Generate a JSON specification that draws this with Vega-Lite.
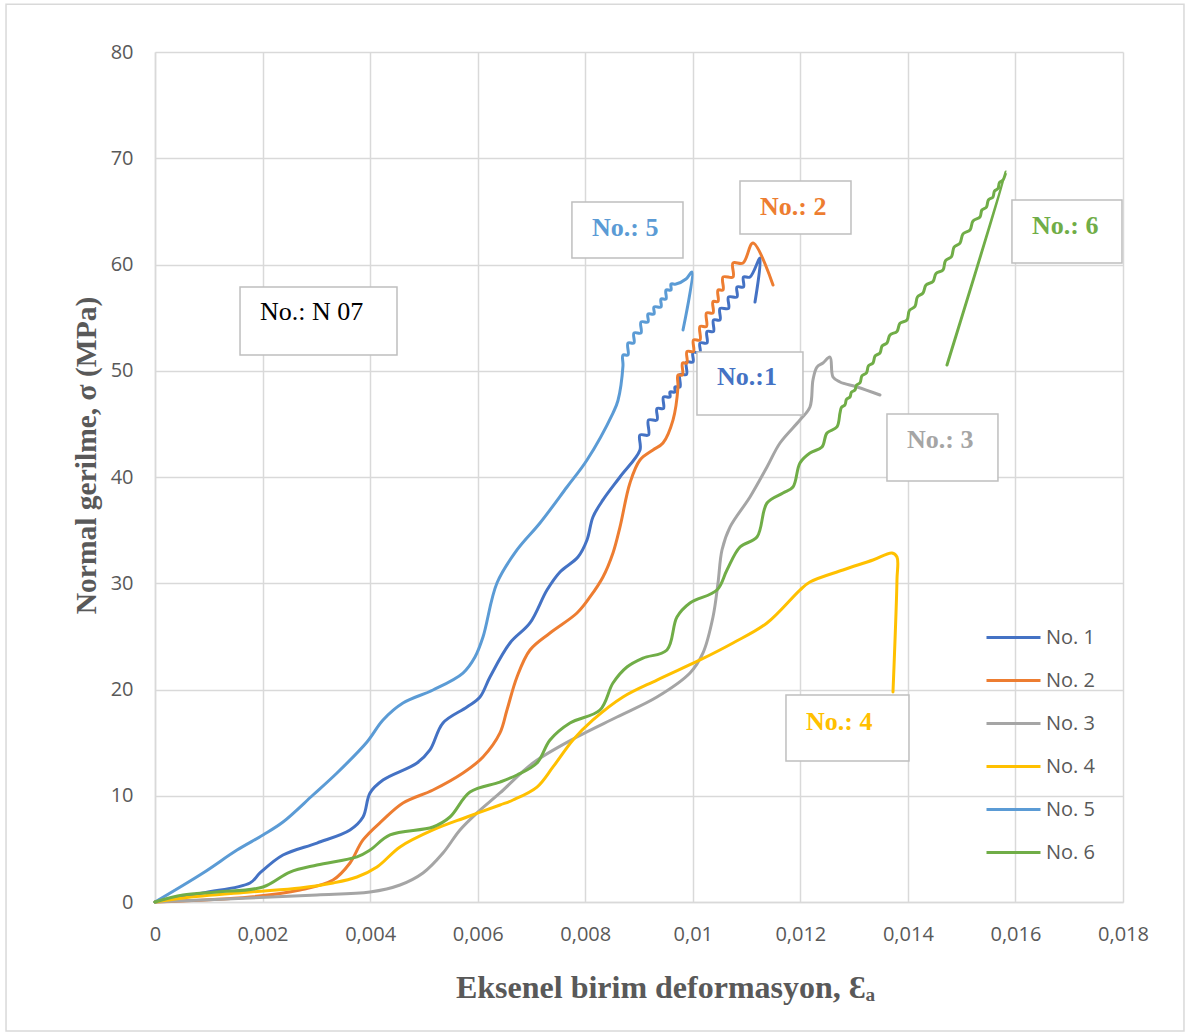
{
  "$schema": "https://vega.github.io/schema/vega-lite/v6.json",
  "width": 968,
  "height": 850,
  "autosize": {"type": "none"},
  "padding": {"left": 155, "top": 52, "right": 68, "bottom": 132},
  "background": "#ffffff",
  "config": {
    "view": {"stroke": null},
    "axis": {
      "grid": true,
      "gridColor": "#d9d9d9",
      "gridWidth": 1.5,
      "domainColor": "#d9d9d9",
      "domainWidth": 1.5,
      "ticks": false,
      "tickSize": 0,
      "labelFlush": false,
      "labelFont": "Open Sans",
      "labelFontSize": 20,
      "labelColor": "#595959",
      "titleFont": "Liberation Serif",
      "titleFontWeight": "bold",
      "titleColor": "#595959"
    },
    "legend": {
      "orient": "none",
      "legendX": 830,
      "legendY": 557,
      "labelFont": "Open Sans",
      "labelFontSize": 20,
      "labelColor": "#595959",
      "symbolType": "stroke",
      "symbolSize": 2916,
      "symbolStrokeWidth": 3,
      "labelOffset": 4,
      "rowPadding": 4,
      "padding": 0,
      "title": null
    }
  },
  "resolve": {"legend": {"color": "independent"}},
  "datasets": {
    "curves": [
      {"numune": "No. 1", "sira": 0, "strain": 0, "stress": 0},
      {"numune": "No. 1", "sira": 1, "strain": 0.000893, "stress": 0.85},
      {"numune": "No. 1", "sira": 2, "strain": 0.001766, "stress": 1.79},
      {"numune": "No. 1", "sira": 3, "strain": 0.001952, "stress": 2.73},
      {"numune": "No. 1", "sira": 4, "strain": 0.00238, "stress": 4.42},
      {"numune": "No. 1", "sira": 5, "strain": 0.003012, "stress": 5.55},
      {"numune": "No. 1", "sira": 6, "strain": 0.003626, "stress": 6.78},
      {"numune": "No. 1", "sira": 7, "strain": 0.003868, "stress": 8.0},
      {"numune": "No. 1", "sira": 8, "strain": 0.003998, "stress": 10.26},
      {"numune": "No. 1", "sira": 9, "strain": 0.00424, "stress": 11.48},
      {"numune": "No. 1", "sira": 10, "strain": 0.004872, "stress": 13.08},
      {"numune": "No. 1", "sira": 11, "strain": 0.005113, "stress": 14.31},
      {"numune": "No. 1", "sira": 12, "strain": 0.005355, "stress": 16.85},
      {"numune": "No. 1", "sira": 13, "strain": 0.005801, "stress": 18.35},
      {"numune": "No. 1", "sira": 14, "strain": 0.006043, "stress": 19.29},
      {"numune": "No. 1", "sira": 15, "strain": 0.006229, "stress": 21.18},
      {"numune": "No. 1", "sira": 16, "strain": 0.006601, "stress": 24.38},
      {"numune": "No. 1", "sira": 17, "strain": 0.006973, "stress": 26.26},
      {"numune": "No. 1", "sira": 18, "strain": 0.007289, "stress": 29.36},
      {"numune": "No. 1", "sira": 19, "strain": 0.007531, "stress": 31.06},
      {"numune": "No. 1", "sira": 20, "strain": 0.007865, "stress": 32.47},
      {"numune": "No. 1", "sira": 21, "strain": 0.008033, "stress": 34.07},
      {"numune": "No. 1", "sira": 22, "strain": 0.008144, "stress": 36.24},
      {"numune": "No. 1", "sira": 23, "strain": 0.00833, "stress": 37.84},
      {"numune": "No. 1", "sira": 24, "strain": 0.008646, "stress": 40.0},
      {"numune": "No. 1", "sira": 25, "strain": 0.009018, "stress": 42.54},
      {"numune": "No. 1", "sira": 25.25, "strain": 0.009018, "stress": 43.95},
      {"numune": "No. 1", "sira": 25.5, "strain": 0.009176, "stress": 43.95},
      {"numune": "No. 1", "sira": 25.75, "strain": 0.009176, "stress": 45.36},
      {"numune": "No. 1", "sira": 26, "strain": 0.009334, "stress": 45.36},
      {"numune": "No. 1", "sira": 26.25, "strain": 0.009334, "stress": 46.45},
      {"numune": "No. 1", "sira": 26.5, "strain": 0.009455, "stress": 46.45},
      {"numune": "No. 1", "sira": 26.75, "strain": 0.009455, "stress": 47.53},
      {"numune": "No. 1", "sira": 27, "strain": 0.009576, "stress": 47.53},
      {"numune": "No. 1", "sira": 27.25, "strain": 0.009576, "stress": 48.0},
      {"numune": "No. 1", "sira": 27.5, "strain": 0.009669, "stress": 48.0},
      {"numune": "No. 1", "sira": 27.75, "strain": 0.009669, "stress": 48.47},
      {"numune": "No. 1", "sira": 28, "strain": 0.009762, "stress": 48.47},
      {"numune": "No. 1", "sira": 28.25, "strain": 0.009762, "stress": 49.65},
      {"numune": "No. 1", "sira": 28.5, "strain": 0.009883, "stress": 49.65},
      {"numune": "No. 1", "sira": 28.75, "strain": 0.009883, "stress": 50.82},
      {"numune": "No. 1", "sira": 29, "strain": 0.010004, "stress": 50.82},
      {"numune": "No. 1", "sira": 29.25, "strain": 0.010004, "stress": 51.72},
      {"numune": "No. 1", "sira": 29.5, "strain": 0.010134, "stress": 51.72},
      {"numune": "No. 1", "sira": 29.75, "strain": 0.010134, "stress": 52.61},
      {"numune": "No. 1", "sira": 30, "strain": 0.010264, "stress": 52.61},
      {"numune": "No. 1", "sira": 30.25, "strain": 0.010264, "stress": 53.7},
      {"numune": "No. 1", "sira": 30.5, "strain": 0.010385, "stress": 53.7},
      {"numune": "No. 1", "sira": 30.75, "strain": 0.010385, "stress": 54.78},
      {"numune": "No. 1", "sira": 31, "strain": 0.010506, "stress": 54.78},
      {"numune": "No. 1", "sira": 31.25, "strain": 0.010506, "stress": 55.86},
      {"numune": "No. 1", "sira": 31.5, "strain": 0.010664, "stress": 55.86},
      {"numune": "No. 1", "sira": 31.75, "strain": 0.010664, "stress": 56.94},
      {"numune": "No. 1", "sira": 32, "strain": 0.010822, "stress": 56.94},
      {"numune": "No. 1", "sira": 32.25, "strain": 0.010822, "stress": 57.88},
      {"numune": "No. 1", "sira": 32.5, "strain": 0.010943, "stress": 57.88},
      {"numune": "No. 1", "sira": 32.75, "strain": 0.010943, "stress": 58.82},
      {"numune": "No. 1", "sira": 33, "strain": 0.011064, "stress": 58.82},
      {"numune": "No. 1", "sira": 34, "strain": 0.01125, "stress": 60.61},
      {"numune": "No. 1", "sira": 35, "strain": 0.011157, "stress": 56.47},

      {"numune": "No. 2", "sira": 0, "strain": 0, "stress": 0},
      {"numune": "No. 2", "sira": 1, "strain": 0.001766, "stress": 0.47},
      {"numune": "No. 2", "sira": 2, "strain": 0.002696, "stress": 1.13},
      {"numune": "No. 2", "sira": 3, "strain": 0.00331, "stress": 2.07},
      {"numune": "No. 2", "sira": 4, "strain": 0.003626, "stress": 3.67},
      {"numune": "No. 2", "sira": 5, "strain": 0.003868, "stress": 5.84},
      {"numune": "No. 2", "sira": 6, "strain": 0.00424, "stress": 7.72},
      {"numune": "No. 2", "sira": 7, "strain": 0.004611, "stress": 9.32},
      {"numune": "No. 2", "sira": 8, "strain": 0.005169, "stress": 10.54},
      {"numune": "No. 2", "sira": 9, "strain": 0.005727, "stress": 12.14},
      {"numune": "No. 2", "sira": 10, "strain": 0.006099, "stress": 13.65},
      {"numune": "No. 2", "sira": 11, "strain": 0.006415, "stress": 15.91},
      {"numune": "No. 2", "sira": 12, "strain": 0.006545, "stress": 18.07},
      {"numune": "No. 2", "sira": 13, "strain": 0.006731, "stress": 21.18},
      {"numune": "No. 2", "sira": 14, "strain": 0.006973, "stress": 23.72},
      {"numune": "No. 2", "sira": 15, "strain": 0.007345, "stress": 25.32},
      {"numune": "No. 2", "sira": 16, "strain": 0.007847, "stress": 27.2},
      {"numune": "No. 2", "sira": 17, "strain": 0.008089, "stress": 28.71},
      {"numune": "No. 2", "sira": 18, "strain": 0.00833, "stress": 30.59},
      {"numune": "No. 2", "sira": 19, "strain": 0.008516, "stress": 32.85},
      {"numune": "No. 2", "sira": 20, "strain": 0.008646, "stress": 35.29},
      {"numune": "No. 2", "sira": 21, "strain": 0.008832, "stress": 39.44},
      {"numune": "No. 2", "sira": 22, "strain": 0.009018, "stress": 41.6},
      {"numune": "No. 2", "sira": 23, "strain": 0.00926, "stress": 42.54},
      {"numune": "No. 2", "sira": 24, "strain": 0.009446, "stress": 43.2},
      {"numune": "No. 2", "sira": 25, "strain": 0.009632, "stress": 45.36},
      {"numune": "No. 2", "sira": 26, "strain": 0.009725, "stress": 48.47},
      {"numune": "No. 2", "sira": 26.25, "strain": 0.009725, "stress": 49.6},
      {"numune": "No. 2", "sira": 26.5, "strain": 0.009809, "stress": 49.6},
      {"numune": "No. 2", "sira": 26.75, "strain": 0.009809, "stress": 50.73},
      {"numune": "No. 2", "sira": 27, "strain": 0.009892, "stress": 50.73},
      {"numune": "No. 2", "sira": 27.25, "strain": 0.009892, "stress": 51.81},
      {"numune": "No. 2", "sira": 27.5, "strain": 0.010013, "stress": 51.81},
      {"numune": "No. 2", "sira": 27.75, "strain": 0.010013, "stress": 52.89},
      {"numune": "No. 2", "sira": 28, "strain": 0.010134, "stress": 52.89},
      {"numune": "No. 2", "sira": 28.25, "strain": 0.010134, "stress": 54.17},
      {"numune": "No. 2", "sira": 28.5, "strain": 0.010255, "stress": 54.17},
      {"numune": "No. 2", "sira": 28.75, "strain": 0.010255, "stress": 55.44},
      {"numune": "No. 2", "sira": 29, "strain": 0.010376, "stress": 55.44},
      {"numune": "No. 2", "sira": 29.25, "strain": 0.010376, "stress": 56.52},
      {"numune": "No. 2", "sira": 29.5, "strain": 0.010469, "stress": 56.52},
      {"numune": "No. 2", "sira": 29.75, "strain": 0.010469, "stress": 57.6},
      {"numune": "No. 2", "sira": 30, "strain": 0.010562, "stress": 57.6},
      {"numune": "No. 2", "sira": 30.5, "strain": 0.010562, "stress": 58.82},
      {"numune": "No. 2", "sira": 31, "strain": 0.010748, "stress": 58.82},
      {"numune": "No. 2", "sira": 31.5, "strain": 0.010748, "stress": 60.14},
      {"numune": "No. 2", "sira": 32, "strain": 0.010934, "stress": 60.14},
      {"numune": "No. 2", "sira": 33, "strain": 0.01112, "stress": 62.02},
      {"numune": "No. 2", "sira": 34, "strain": 0.011492, "stress": 58.07},

      {"numune": "No. 3", "sira": 0, "strain": 0, "stress": 0},
      {"numune": "No. 3", "sira": 1, "strain": 0.001766, "stress": 0.38},
      {"numune": "No. 3", "sira": 2, "strain": 0.003012, "stress": 0.66},
      {"numune": "No. 3", "sira": 3, "strain": 0.003998, "stress": 0.94},
      {"numune": "No. 3", "sira": 4, "strain": 0.004556, "stress": 1.6},
      {"numune": "No. 3", "sira": 5, "strain": 0.004983, "stress": 2.73},
      {"numune": "No. 3", "sira": 6, "strain": 0.005355, "stress": 4.61},
      {"numune": "No. 3", "sira": 7, "strain": 0.005671, "stress": 6.78},
      {"numune": "No. 3", "sira": 8, "strain": 0.005987, "stress": 8.38},
      {"numune": "No. 3", "sira": 9, "strain": 0.006415, "stress": 10.26},
      {"numune": "No. 3", "sira": 10, "strain": 0.007029, "stress": 13.08},
      {"numune": "No. 3", "sira": 11, "strain": 0.007847, "stress": 15.53},
      {"numune": "No. 3", "sira": 12, "strain": 0.008591, "stress": 17.41},
      {"numune": "No. 3", "sira": 13, "strain": 0.009334, "stress": 19.29},
      {"numune": "No. 3", "sira": 14, "strain": 0.009948, "stress": 21.55},
      {"numune": "No. 3", "sira": 15, "strain": 0.01019, "stress": 23.44},
      {"numune": "No. 3", "sira": 16, "strain": 0.010376, "stress": 26.82},
      {"numune": "No. 3", "sira": 17, "strain": 0.010469, "stress": 30.02},
      {"numune": "No. 3", "sira": 18, "strain": 0.010543, "stress": 33.13},
      {"numune": "No. 3", "sira": 19, "strain": 0.010692, "stress": 35.29},
      {"numune": "No. 3", "sira": 20, "strain": 0.011064, "stress": 38.12},
      {"numune": "No. 3", "sira": 21, "strain": 0.01138, "stress": 40.94},
      {"numune": "No. 3", "sira": 22, "strain": 0.011622, "stress": 43.2},
      {"numune": "No. 3", "sira": 23, "strain": 0.011993, "stress": 45.36},
      {"numune": "No. 3", "sira": 24, "strain": 0.012179, "stress": 46.59},
      {"numune": "No. 3", "sira": 25, "strain": 0.012235, "stress": 49.13},
      {"numune": "No. 3", "sira": 26, "strain": 0.012309, "stress": 50.35},
      {"numune": "No. 3", "sira": 27, "strain": 0.012421, "stress": 50.73},
      {"numune": "No. 3", "sira": 28, "strain": 0.012551, "stress": 51.29},
      {"numune": "No. 3", "sira": 29, "strain": 0.012607, "stress": 49.41},
      {"numune": "No. 3", "sira": 30, "strain": 0.012737, "stress": 48.94},
      {"numune": "No. 3", "sira": 31, "strain": 0.013053, "stress": 48.47},
      {"numune": "No. 3", "sira": 32, "strain": 0.013481, "stress": 47.72},

      {"numune": "No. 4", "sira": 0, "strain": 0, "stress": 0},
      {"numune": "No. 4", "sira": 1, "strain": 0.000521, "stress": 0.38},
      {"numune": "No. 4", "sira": 2, "strain": 0.001766, "stress": 0.94},
      {"numune": "No. 4", "sira": 3, "strain": 0.002696, "stress": 1.32},
      {"numune": "No. 4", "sira": 4, "strain": 0.00331, "stress": 1.79},
      {"numune": "No. 4", "sira": 5, "strain": 0.003756, "stress": 2.35},
      {"numune": "No. 4", "sira": 6, "strain": 0.004128, "stress": 3.29},
      {"numune": "No. 4", "sira": 7, "strain": 0.004556, "stress": 5.18},
      {"numune": "No. 4", "sira": 8, "strain": 0.005169, "stress": 6.78},
      {"numune": "No. 4", "sira": 9, "strain": 0.005801, "stress": 8.0},
      {"numune": "No. 4", "sira": 10, "strain": 0.006415, "stress": 9.13},
      {"numune": "No. 4", "sira": 11, "strain": 0.006657, "stress": 9.6},
      {"numune": "No. 4", "sira": 12, "strain": 0.007103, "stress": 10.82},
      {"numune": "No. 4", "sira": 13, "strain": 0.007401, "stress": 12.71},
      {"numune": "No. 4", "sira": 14, "strain": 0.007772, "stress": 15.25},
      {"numune": "No. 4", "sira": 15, "strain": 0.008144, "stress": 17.13},
      {"numune": "No. 4", "sira": 16, "strain": 0.008702, "stress": 19.29},
      {"numune": "No. 4", "sira": 17, "strain": 0.009334, "stress": 20.89},
      {"numune": "No. 4", "sira": 18, "strain": 0.010134, "stress": 22.78},
      {"numune": "No. 4", "sira": 19, "strain": 0.010748, "stress": 24.38},
      {"numune": "No. 4", "sira": 20, "strain": 0.01138, "stress": 26.26},
      {"numune": "No. 4", "sira": 21, "strain": 0.011993, "stress": 29.36},
      {"numune": "No. 4", "sira": 22, "strain": 0.012179, "stress": 30.12},
      {"numune": "No. 4", "sira": 23, "strain": 0.012793, "stress": 31.25},
      {"numune": "No. 4", "sira": 24, "strain": 0.013351, "stress": 32.19},
      {"numune": "No. 4", "sira": 25, "strain": 0.013704, "stress": 32.85},
      {"numune": "No. 4", "sira": 26, "strain": 0.013797, "stress": 32.47},
      {"numune": "No. 4", "sira": 27, "strain": 0.013797, "stress": 30.31},
      {"numune": "No. 4", "sira": 28, "strain": 0.013723, "stress": 19.76},

      {"numune": "No. 5", "sira": 0, "strain": 0, "stress": 0},
      {"numune": "No. 5", "sira": 1, "strain": 0.000893, "stress": 2.73},
      {"numune": "No. 5", "sira": 2, "strain": 0.001525, "stress": 4.89},
      {"numune": "No. 5", "sira": 3, "strain": 0.002008, "stress": 6.31},
      {"numune": "No. 5", "sira": 4, "strain": 0.00238, "stress": 7.53},
      {"numune": "No. 5", "sira": 5, "strain": 0.002938, "stress": 10.07},
      {"numune": "No. 5", "sira": 6, "strain": 0.003384, "stress": 12.14},
      {"numune": "No. 5", "sira": 7, "strain": 0.003942, "stress": 15.06},
      {"numune": "No. 5", "sira": 8, "strain": 0.00424, "stress": 17.13},
      {"numune": "No. 5", "sira": 9, "strain": 0.004611, "stress": 18.73},
      {"numune": "No. 5", "sira": 10, "strain": 0.005169, "stress": 19.95},
      {"numune": "No. 5", "sira": 11, "strain": 0.005727, "stress": 21.55},
      {"numune": "No. 5", "sira": 12, "strain": 0.00595, "stress": 23.06},
      {"numune": "No. 5", "sira": 13, "strain": 0.006099, "stress": 24.94},
      {"numune": "No. 5", "sira": 14, "strain": 0.006359, "stress": 30.02},
      {"numune": "No. 5", "sira": 15, "strain": 0.006731, "stress": 33.13},
      {"numune": "No. 5", "sira": 16, "strain": 0.007159, "stress": 35.67},
      {"numune": "No. 5", "sira": 17, "strain": 0.007661, "stress": 39.06},
      {"numune": "No. 5", "sira": 18, "strain": 0.008033, "stress": 41.6},
      {"numune": "No. 5", "sira": 19, "strain": 0.008516, "stress": 46.02},
      {"numune": "No. 5", "sira": 20, "strain": 0.008609, "stress": 47.2},
      {"numune": "No. 5", "sira": 21, "strain": 0.008702, "stress": 50.45},
      {"numune": "No. 5", "sira": 21.5, "strain": 0.008702, "stress": 51.48},
      {"numune": "No. 5", "sira": 22, "strain": 0.008795, "stress": 51.48},
      {"numune": "No. 5", "sira": 22.5, "strain": 0.008795, "stress": 52.61},
      {"numune": "No. 5", "sira": 23, "strain": 0.008906, "stress": 52.61},
      {"numune": "No. 5", "sira": 23.5, "strain": 0.008906, "stress": 53.55},
      {"numune": "No. 5", "sira": 24, "strain": 0.009037, "stress": 53.55},
      {"numune": "No. 5", "sira": 24.5, "strain": 0.009037, "stress": 54.59},
      {"numune": "No. 5", "sira": 25, "strain": 0.009167, "stress": 54.59},
      {"numune": "No. 5", "sira": 25.5, "strain": 0.009167, "stress": 55.34},
      {"numune": "No. 5", "sira": 26, "strain": 0.009279, "stress": 55.34},
      {"numune": "No. 5", "sira": 26.5, "strain": 0.009279, "stress": 56.0},
      {"numune": "No. 5", "sira": 27, "strain": 0.009409, "stress": 56.0},
      {"numune": "No. 5", "sira": 27.5, "strain": 0.009409, "stress": 56.75},
      {"numune": "No. 5", "sira": 28, "strain": 0.009502, "stress": 56.75},
      {"numune": "No. 5", "sira": 28.5, "strain": 0.009502, "stress": 57.6},
      {"numune": "No. 5", "sira": 29, "strain": 0.009595, "stress": 57.6},
      {"numune": "No. 5", "sira": 29.5, "strain": 0.009595, "stress": 58.16},
      {"numune": "No. 5", "sira": 30, "strain": 0.009688, "stress": 58.16},
      {"numune": "No. 5", "sira": 31, "strain": 0.009874, "stress": 58.63},
      {"numune": "No. 5", "sira": 32, "strain": 0.009985, "stress": 59.29},
      {"numune": "No. 5", "sira": 33, "strain": 0.009818, "stress": 53.84},

      {"numune": "No. 6", "sira": 0, "strain": 0, "stress": 0},
      {"numune": "No. 6", "sira": 1, "strain": 0.000521, "stress": 0.66},
      {"numune": "No. 6", "sira": 2, "strain": 0.001153, "stress": 0.94},
      {"numune": "No. 6", "sira": 3, "strain": 0.002008, "stress": 1.41},
      {"numune": "No. 6", "sira": 4, "strain": 0.00251, "stress": 2.82},
      {"numune": "No. 6", "sira": 5, "strain": 0.003012, "stress": 3.48},
      {"numune": "No. 6", "sira": 6, "strain": 0.003756, "stress": 4.24},
      {"numune": "No. 6", "sira": 7, "strain": 0.003998, "stress": 4.89},
      {"numune": "No. 6", "sira": 8, "strain": 0.00437, "stress": 6.31},
      {"numune": "No. 6", "sira": 9, "strain": 0.005169, "stress": 7.06},
      {"numune": "No. 6", "sira": 10, "strain": 0.005485, "stress": 8.0},
      {"numune": "No. 6", "sira": 11, "strain": 0.005857, "stress": 10.35},
      {"numune": "No. 6", "sira": 12, "strain": 0.006415, "stress": 11.29},
      {"numune": "No. 6", "sira": 13, "strain": 0.006731, "stress": 11.95},
      {"numune": "No. 6", "sira": 14, "strain": 0.007103, "stress": 13.08},
      {"numune": "No. 6", "sira": 15, "strain": 0.007345, "stress": 15.25},
      {"numune": "No. 6", "sira": 16, "strain": 0.007717, "stress": 16.85},
      {"numune": "No. 6", "sira": 17, "strain": 0.008274, "stress": 18.07},
      {"numune": "No. 6", "sira": 18, "strain": 0.008516, "stress": 20.61},
      {"numune": "No. 6", "sira": 19, "strain": 0.008776, "stress": 22.12},
      {"numune": "No. 6", "sira": 20, "strain": 0.009074, "stress": 22.96},
      {"numune": "No. 6", "sira": 21, "strain": 0.00952, "stress": 23.72},
      {"numune": "No. 6", "sira": 22, "strain": 0.009706, "stress": 26.82},
      {"numune": "No. 6", "sira": 23, "strain": 0.009948, "stress": 28.14},
      {"numune": "No. 6", "sira": 24, "strain": 0.01045, "stress": 29.36},
      {"numune": "No. 6", "sira": 25, "strain": 0.010636, "stress": 31.25},
      {"numune": "No. 6", "sira": 26, "strain": 0.010878, "stress": 33.41},
      {"numune": "No. 6", "sira": 27, "strain": 0.011194, "stress": 34.35},
      {"numune": "No. 6", "sira": 28, "strain": 0.01138, "stress": 37.55},
      {"numune": "No. 6", "sira": 29, "strain": 0.011677, "stress": 38.49},
      {"numune": "No. 6", "sira": 30, "strain": 0.011863, "stress": 39.06},
      {"numune": "No. 6", "sira": 31, "strain": 0.011993, "stress": 41.32},
      {"numune": "No. 6", "sira": 32, "strain": 0.012179, "stress": 42.26},
      {"numune": "No. 6", "sira": 33, "strain": 0.012402, "stress": 42.82},
      {"numune": "No. 6", "sira": 34, "strain": 0.012495, "stress": 44.14},
      {"numune": "No. 6", "sira": 35, "strain": 0.012681, "stress": 44.71},
      {"numune": "No. 6", "sira": 36, "strain": 0.012737, "stress": 46.02},
      {"numune": "No. 6", "sira": 36.25, "strain": 0.012765, "stress": 46.55},
      {"numune": "No. 6", "sira": 36.5, "strain": 0.01283, "stress": 46.78},
      {"numune": "No. 6", "sira": 36.75, "strain": 0.012858, "stress": 47.31},
      {"numune": "No. 6", "sira": 37, "strain": 0.012923, "stress": 47.53},
      {"numune": "No. 6", "sira": 37.25, "strain": 0.012951, "stress": 47.99},
      {"numune": "No. 6", "sira": 37.5, "strain": 0.013016, "stress": 48.19},
      {"numune": "No. 6", "sira": 37.75, "strain": 0.013044, "stress": 48.65},
      {"numune": "No. 6", "sira": 38, "strain": 0.013109, "stress": 48.85},
      {"numune": "No. 6", "sira": 38.25, "strain": 0.013145, "stress": 49.51},
      {"numune": "No. 6", "sira": 38.5, "strain": 0.01323, "stress": 49.79},
      {"numune": "No. 6", "sira": 38.75, "strain": 0.013266, "stress": 50.45},
      {"numune": "No. 6", "sira": 39, "strain": 0.013351, "stress": 50.73},
      {"numune": "No. 6", "sira": 39.25, "strain": 0.01339, "stress": 51.39},
      {"numune": "No. 6", "sira": 39.5, "strain": 0.013481, "stress": 51.67},
      {"numune": "No. 6", "sira": 39.75, "strain": 0.01352, "stress": 52.33},
      {"numune": "No. 6", "sira": 40, "strain": 0.013611, "stress": 52.61},
      {"numune": "No. 6", "sira": 40.25, "strain": 0.013667, "stress": 53.37},
      {"numune": "No. 6", "sira": 40.5, "strain": 0.013797, "stress": 53.7},
      {"numune": "No. 6", "sira": 40.75, "strain": 0.013853, "stress": 54.46},
      {"numune": "No. 6", "sira": 41, "strain": 0.013983, "stress": 54.78},
      {"numune": "No. 6", "sira": 41.25, "strain": 0.014028, "stress": 55.67},
      {"numune": "No. 6", "sira": 41.5, "strain": 0.014132, "stress": 56.05},
      {"numune": "No. 6", "sira": 41.75, "strain": 0.014177, "stress": 56.94},
      {"numune": "No. 6", "sira": 42, "strain": 0.014281, "stress": 57.32},
      {"numune": "No. 6", "sira": 42.25, "strain": 0.014337, "stress": 58.08},
      {"numune": "No. 6", "sira": 42.5, "strain": 0.014467, "stress": 58.4},
      {"numune": "No. 6", "sira": 42.75, "strain": 0.014523, "stress": 59.16},
      {"numune": "No. 6", "sira": 43, "strain": 0.014652, "stress": 59.48},
      {"numune": "No. 6", "sira": 43.25, "strain": 0.0147, "stress": 60.37},
      {"numune": "No. 6", "sira": 43.5, "strain": 0.014811, "stress": 60.75},
      {"numune": "No. 6", "sira": 43.75, "strain": 0.014859, "stress": 61.64},
      {"numune": "No. 6", "sira": 44, "strain": 0.014969, "stress": 62.02},
      {"numune": "No. 6", "sira": 44.25, "strain": 0.015025, "stress": 62.88},
      {"numune": "No. 6", "sira": 44.5, "strain": 0.015155, "stress": 63.25},
      {"numune": "No. 6", "sira": 44.75, "strain": 0.015211, "stress": 64.1},
      {"numune": "No. 6", "sira": 45, "strain": 0.01534, "stress": 64.47},
      {"numune": "No. 6", "sira": 45.25, "strain": 0.015376, "stress": 65.13},
      {"numune": "No. 6", "sira": 45.5, "strain": 0.015461, "stress": 65.41},
      {"numune": "No. 6", "sira": 45.75, "strain": 0.015497, "stress": 66.07},
      {"numune": "No. 6", "sira": 46, "strain": 0.015582, "stress": 66.35},
      {"numune": "No. 6", "sira": 46.25, "strain": 0.01561, "stress": 66.91},
      {"numune": "No. 6", "sira": 46.5, "strain": 0.015675, "stress": 67.15},
      {"numune": "No. 6", "sira": 46.75, "strain": 0.015703, "stress": 67.71},
      {"numune": "No. 6", "sira": 47, "strain": 0.015768, "stress": 67.95},
      {"numune": "No. 6", "sira": 48, "strain": 0.015824, "stress": 68.71},
      {"numune": "No. 6", "sira": 49, "strain": 0.014727, "stress": 50.54}
    ],
    "callouts": [
      {"numune": "No. 1", "text": "No.:1", "x1": 0.010078, "x2": 0.012049, "y1": 51.76, "y2": 45.84, "tx": 0.01045, "ty": 49.41},
      {"numune": "No. 2", "text": "No.: 2", "x1": 0.010878, "x2": 0.012942, "y1": 67.86, "y2": 62.87, "tx": 0.01125, "ty": 65.41},
      {"numune": "No. 3", "text": "No.: 3", "x1": 0.013611, "x2": 0.015675, "y1": 45.93, "y2": 39.62, "tx": 0.013983, "ty": 43.48},
      {"numune": "No. 4", "text": "No.: 4", "x1": 0.011733, "x2": 0.01402, "y1": 19.48, "y2": 13.27, "tx": 0.012105, "ty": 16.94},
      {"numune": "No. 5", "text": "No.: 5", "x1": 0.007753, "x2": 0.009818, "y1": 65.88, "y2": 60.61, "tx": 0.008126, "ty": 63.44},
      {"numune": "No. 6", "text": "No.: 6", "x1": 0.015935, "x2": 0.017981, "y1": 66.07, "y2": 60.14, "tx": 0.016307, "ty": 63.62}
    ],
    "sample": [
      {"text": "No.: N 07", "x1": 0.001581, "x2": 0.0045, "y1": 57.88, "y2": 51.48, "tx": 0.001952, "ty": 55.53}
    ],
    "frame": [
      {"x1": -0.00277, "x2": 0.019134, "y1": 84.5, "y2": -12.14}
    ]
  },
  "layer": [
    {
      "data": {"name": "frame"},
      "mark": {"type": "rect", "fill": null, "stroke": "#d9d9d9", "strokeWidth": 1.5},
      "encoding": {
        "x": {"field": "x1", "type": "quantitative", "scale": {"domain": [0, 0.018]}},
        "x2": {"field": "x2"},
        "y": {"field": "y1", "type": "quantitative", "scale": {"domain": [0, 80]}},
        "y2": {"field": "y2"}
      }
    },
    {
      "data": {"name": "curves"},
      "mark": {"type": "line", "interpolate": "catmull-rom", "strokeWidth": 3, "strokeCap": "round", "strokeJoin": "round"},
      "encoding": {
        "x": {
          "field": "strain",
          "type": "quantitative",
          "scale": {"domain": [0, 0.018], "nice": false, "zero": true},
          "axis": {
            "values": [0, 0.002, 0.004, 0.006, 0.008, 0.01, 0.012, 0.014, 0.016, 0.018],
            "labelExpr": "replace(format(datum.value, '.3~f'), '.', ',')",
            "labelPadding": 22,
            "title": "Eksenel birim deformasyon, Ɛₐ",
            "titleFontSize": 32,
            "titleX": 510,
            "titleY": 95,
            "titleBaseline": "alphabetic",
            "titleAlign": "center"
          }
        },
        "y": {
          "field": "stress",
          "type": "quantitative",
          "scale": {"domain": [0, 80], "nice": false},
          "axis": {
            "values": [0, 10, 20, 30, 40, 50, 60, 70, 80],
            "labelPadding": 22,
            "title": "Normal gerilme, σ  (MPa)",
            "titleFontSize": 29.5,
            "titleX": -60,
            "titleY": 403,
            "titleAngle": 270,
            "titleBaseline": "alphabetic",
            "titleAlign": "center"
          }
        },
        "color": {
          "field": "numune",
          "type": "nominal",
          "scale": {
            "domain": ["No. 1", "No. 2", "No. 3", "No. 4", "No. 5", "No. 6"],
            "range": ["#4472C4", "#ED7D31", "#A5A5A5", "#FFC000", "#5B9BD5", "#70AD47"]
          }
        },
        "order": {"field": "sira", "type": "quantitative"}
      }
    },
    {
      "data": {"name": "callouts"},
      "mark": {"type": "rect", "fill": "#ffffff", "stroke": "#bfbfbf", "strokeWidth": 1.5},
      "encoding": {
        "x": {"field": "x1", "type": "quantitative"},
        "x2": {"field": "x2"},
        "y": {"field": "y1", "type": "quantitative"},
        "y2": {"field": "y2"}
      }
    },
    {
      "data": {"name": "sample"},
      "mark": {"type": "rect", "fill": "#ffffff", "stroke": "#bfbfbf", "strokeWidth": 1.5},
      "encoding": {
        "x": {"field": "x1", "type": "quantitative"},
        "x2": {"field": "x2"},
        "y": {"field": "y1", "type": "quantitative"},
        "y2": {"field": "y2"}
      }
    },
    {
      "data": {"name": "callouts"},
      "mark": {"type": "text", "font": "Liberation Serif", "fontSize": 26, "fontWeight": "bold", "align": "left", "baseline": "middle"},
      "encoding": {
        "x": {"field": "tx", "type": "quantitative"},
        "y": {"field": "ty", "type": "quantitative"},
        "text": {"field": "text"},
        "color": {"field": "numune", "type": "nominal", "legend": null}
      }
    },
    {
      "data": {"name": "sample"},
      "mark": {"type": "text", "font": "Liberation Serif", "fontSize": 26, "color": "#000000", "align": "left", "baseline": "middle"},
      "encoding": {
        "x": {"field": "tx", "type": "quantitative"},
        "y": {"field": "ty", "type": "quantitative"},
        "text": {"field": "text"}
      }
    }
  ]
}
